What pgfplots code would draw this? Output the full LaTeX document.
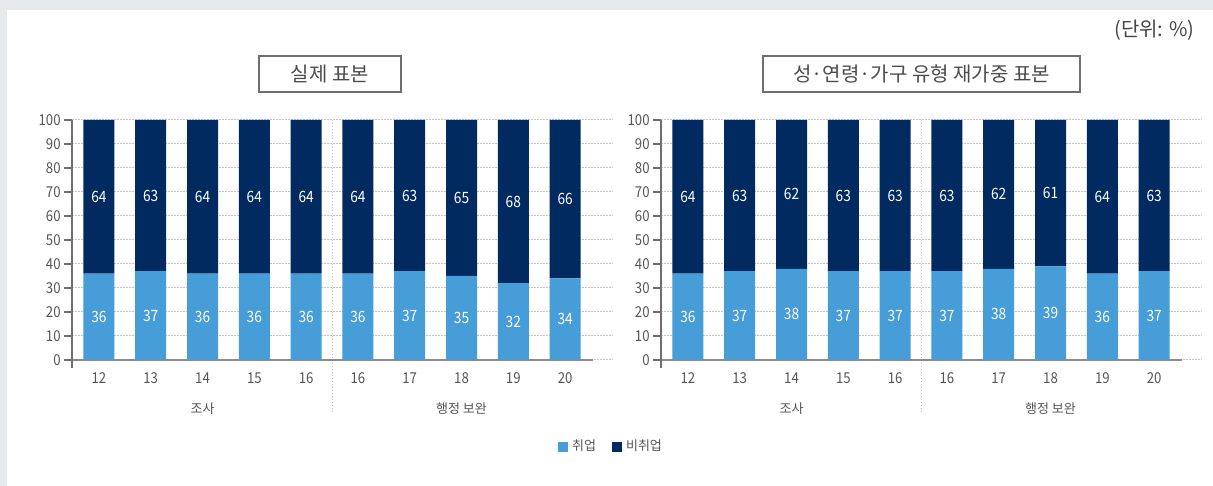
\documentclass[border=0pt]{standalone}
\usepackage{pgfplots}
\pgfplotsset{compat=1.18}
\usepackage{pgfplotstable}
\usepackage{fontspec}
\setmainfont{Noto Sans CJK KR}
\newfontfamily\numfont[FakeStretch=0.88]{Noto Sans CJK KR}
\definecolor{empblue}{RGB}{70,157,216}
\definecolor{nonnavy}{RGB}{0,42,96}
\definecolor{bggray}{RGB}{231,233,236}
\definecolor{txtgray}{RGB}{85,85,85}
\definecolor{gridgray}{RGB}{195,195,195}
\definecolor{axisgray}{RGB}{110,110,110}

\pgfplotstableread{
x emp non
0 36 64
1 37 63
2 36 64
3 36 64
4 36 64
5 36 64
6 37 63
7 35 65
8 32 68
9 34 66
}\actual
\pgfplotstableread{
x emp non
0 36 64
1 37 63
2 38 62
3 37 63
4 37 63
5 37 63
6 38 62
7 39 61
8 36 64
9 37 63
}\reweighted

\pgfplotsset{
  panel/.style={
    scale only axis, width=270.65pt, height=120pt,
    anchor=south west, clip=false,
    xmin=-0.52, xmax=9.93, ymin=0, ymax=100,
    ybar stacked, bar width=15.5pt,
    axis line style={draw=none},
    xtick={0,...,9}, xticklabels={12,13,14,15,16,16,17,18,19,20},
    ytick={0,10,...,100},
    ytick pos=left, xtick pos=bottom,
    tick align=outside, major tick length=4pt,
    major x tick style={draw=none},
    major y tick style={draw=axisgray, line width=0.75pt},
    ymajorgrids, grid style={gridgray, line width=0.5pt, dash pattern=on 0.75pt off 0.75pt},
    /pgf/number format/assume math mode=true,
    ticklabel style={font=\numfont\fontsize{7.5}{9}\selectfont, text=txtgray},
    xticklabel style={yshift=1.3pt},
    yticklabel style={inner xsep=1.5pt},
    point meta=explicit symbolic,
    nodes near coords,
    every node near coord/.append style={anchor=center, text=white,
      font=\numfont\fontsize{7.8}{9}\selectfont},
  },
}

\begin{document}
\begin{tikzpicture}
\useasboundingbox (0,0) rectangle (606.5pt,243pt);
\fill[bggray] (0,0) rectangle (606.5pt,243pt);
\fill[white] (3.5pt,0) rectangle (606.5pt,238pt);

% left panel
\begin{axis}[panel, at={(36pt,63pt)}]
\addplot[fill=empblue, draw=none] table[x=x,y=emp,meta=emp] {\actual};
\addplot[fill=nonnavy, draw=none] table[x=x,y=non,meta=non] {\actual};
\draw[axisgray, line width=1pt] (axis cs:-0.52,100) -- (axis cs:-0.52,-3.33);
\draw[axisgray!80, line width=0.75pt] (axis cs:-0.52,0) -- (axis cs:9.54,0);
\draw[gridgray, line width=0.5pt, dash pattern=on 0.75pt off 0.75pt] (axis cs:4.5,100) -- (axis cs:4.5,-22.1);
\node[font=\fontsize{6.5}{8}\selectfont, text=txtgray] at (axis cs:2,-20.4) {조사};
\node[font=\fontsize{6.5}{8}\selectfont, text=txtgray] at (axis cs:7,-20.4) {행정 보완};
\end{axis}

% right panel
\begin{axis}[panel, at={(330.5pt,63pt)},
  legend style={at={(-0.0905,-0.3625)}, anchor=center, draw=none, fill=none,
    legend columns=2, font=\fontsize{6.5}{8}\selectfont, text=txtgray,
    /tikz/every even column/.append style={column sep=6pt}},
  legend image code/.code={\draw[#1,draw=none] (0pt,-2.5pt) rectangle (5pt,2.5pt);}]
\addplot[fill=empblue, draw=none] table[x=x,y=emp,meta=emp] {\reweighted};
\addlegendentry{취업}
\addplot[fill=nonnavy, draw=none] table[x=x,y=non,meta=non] {\reweighted};
\addlegendentry{비취업}
\draw[axisgray, line width=1pt] (axis cs:-0.52,100) -- (axis cs:-0.52,-3.33);
\draw[axisgray!80, line width=0.75pt] (axis cs:-0.52,0) -- (axis cs:9.54,0);
\draw[gridgray, line width=0.5pt, dash pattern=on 0.75pt off 0.75pt] (axis cs:4.5,100) -- (axis cs:4.5,-22.1);
\node[font=\fontsize{6.5}{8}\selectfont, text=txtgray] at (axis cs:2,-20.4) {조사};
\node[font=\fontsize{6.5}{8}\selectfont, text=txtgray] at (axis cs:7,-20.4) {행정 보완};
\end{axis}

% titles
\node[draw=axisgray, line width=0.7pt, inner xsep=16pt, minimum height=18pt,
  font=\fontsize{10}{12}\selectfont, text=txtgray!90!black] at (165pt,206pt) {실제 표본};
\node[draw=axisgray, line width=0.7pt, inner xsep=15pt, minimum height=18pt,
  font=\fontsize{10}{12}\selectfont, text=txtgray!90!black] at (460.75pt,206pt) {성·연령·가구 유형 재가중 표본};
\node[anchor=east, font=\fontsize{10}{12}\selectfont, text=txtgray!80!black, inner sep=0pt] at (597.5pt,228pt) {(단위: \%)};
\end{tikzpicture}
\end{document}
